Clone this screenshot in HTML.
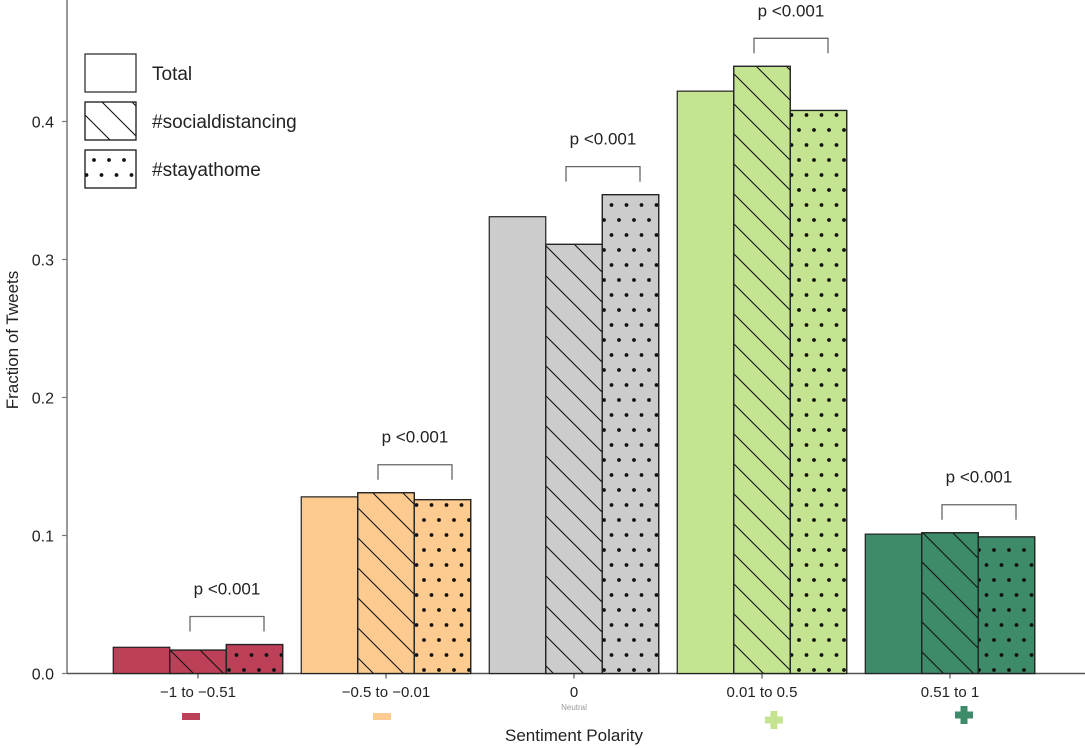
<!DOCTYPE html>
<html><head><meta charset="utf-8">
<style>
html,body{margin:0;padding:0;background:#fff;}
svg{display:block;font-family:"Liberation Sans","DejaVu Sans",sans-serif;}
</style></head>
<body>
<svg id="chart" width="1085" height="748" viewBox="0 0 1085 748">
<defs>
<pattern id="hatch" patternUnits="userSpaceOnUse" width="30" height="30">
<path d="M-5,-5 L35,35 M-35,-5 L5,35 M25,-5 L65,35" stroke="#111" stroke-width="1.1"/>
</pattern>
<pattern id="dots" patternUnits="userSpaceOnUse" width="15" height="30" x="0" y="7">
<circle cx="4" cy="3" r="1.9" fill="#111"/>
<circle cx="11.5" cy="18" r="1.9" fill="#111"/>
</pattern>
</defs>
<g id="axes"></g>
<g id="bars"></g>
<g id="annot"></g>
<g id="legend"></g>
</svg>
<script>
const categories = ["\u22121 to \u22120.51", "\u22120.5 to \u22120.01", "0", "0.01 to 0.5", "0.51 to 1"];
const totalVals = [0.019, 0.128, 0.331, 0.422, 0.101];
const socialVals = [0.017, 0.131, 0.311, 0.440, 0.102];
const stayVals = [0.021, 0.126, 0.347, 0.408, 0.099];
const yTicks = [0.0, 0.1, 0.2, 0.3, 0.4];
const yTickLabels = ["0.0", "0.1", "0.2", "0.3", "0.4"];
const pLabels = ["p <0.001", "p <0.001", "p <0.001", "p <0.001", "p <0.001"];
const seriesNames = ["Total", "#socialdistancing", "#stayathome"];
const colors = ["#bb4058", "#fdcb8f", "#cccccc", "#c5e491", "#3d8b68"];

const NS = "http://www.w3.org/2000/svg";
const y0 = 673.5, pxPer = 1380;
const yScale = v => y0 - v * pxPer;
const xCenter = i => 198 + i * 188;
const barW = 56.5;
function mk(tag, attrs, parent, text) {
  const e = document.createElementNS(NS, tag);
  for (const k in attrs) e.setAttribute(k, attrs[k]);
  if (text !== undefined) e.textContent = text;
  parent.appendChild(e);
  return e;
}
const axes = document.getElementById('axes');
const bars = document.getElementById('bars');
const annot = document.getElementById('annot');
const legend = document.getElementById('legend');

// y axis
let yl = mk('line', {x1: 67, y1: 0, x2: 67, y2: y0, stroke: '#777', 'stroke-width': 1.5}, axes);


let xl = mk('line', {x1: 67, y1: y0, x2: 1085, y2: y0, stroke: '#555', 'stroke-width': 1.5}, axes);


yTicks.forEach((t, i) => {
  const y = yScale(t);
  mk('line', {x1: 62, y1: y, x2: 67, y2: y, stroke: '#777', 'stroke-width': 1.2}, axes);
  const lab = mk('text', {x: 54, y: y + 6, 'text-anchor': 'end', 'font-size': 16, fill: '#222'}, axes, yTickLabels[i]);
  
  
});
const yt = mk('text', {x: 18, y: 340, 'text-anchor': 'middle', 'font-size': 17, fill: '#222', transform: 'rotate(-90 18 340)'}, axes, 'Fraction of Tweets');


const xt = mk('text', {x: 574, y: 741, 'text-anchor': 'middle', 'font-size': 17, fill: '#222'}, axes, 'Sentiment Polarity');



categories.forEach((c, i) => {
  const cx = xCenter(i);
  mk('line', {x1: cx, y1: y0, x2: cx, y2: y0 + 5, stroke: '#555', 'stroke-width': 1.2}, axes);
  const lab = mk('text', {x: cx, y: 697, 'text-anchor': 'middle', 'font-size': 15, fill: '#222'}, axes, c);
  
  
  const vals = [totalVals[i], socialVals[i], stayVals[i]];
  vals.forEach((v, s) => {
    const x = cx - 1.5 * barW + s * barW;
    const y = yScale(v);
    const r = mk('rect', {x: x, y: y, width: barW, height: y0 - y, fill: colors[i], stroke: '#222', 'stroke-width': 1.2}, bars);
    
    
    if (s > 0) {
      const o = mk('rect', {x: x, y: y, width: barW, height: y0 - y, fill: s === 1 ? 'url(#hatch)' : 'url(#dots)', stroke: '#222', 'stroke-width': 1.2}, bars);
      
      
    }
  });
  // bracket
  const top = yScale(Math.max(socialVals[i], stayVals[i])) - 28;
  const bx1 = cx - 8, bx2 = cx + 66;
  const br = mk('path', {d: `M${bx1},${top + 15} L${bx1},${top} L${bx2},${top} L${bx2},${top + 15}`, fill: 'none', stroke: '#666', 'stroke-width': 1.3}, annot);
  
  
  const pt = mk('text', {x: (bx1 + bx2) / 2, y: top - 22, 'text-anchor': 'middle', 'font-size': 17, fill: '#222'}, annot, pLabels[i]);
  
  
});
// sign icons
const m1 = mk('rect', {x: 182, y: 713, width: 18, height: 7, fill: colors[0]}, axes);


const m2 = mk('rect', {x: 373, y: 713, width: 18, height: 7, fill: colors[1]}, axes);


const nt = mk('text', {x: 574, y: 710, 'text-anchor': 'middle', 'font-size': 8, fill: '#999'}, axes, 'Neutral');


[[774, 720, colors[3], 'slight-positive-icon'], [964, 715, colors[4], 'positive-icon']].forEach(p => {
  const g = mk('path', {d: `M${p[0]-3.5},${p[1]-9} h7 v5.5 h5.5 v7 h-5.5 v5.5 h-7 v-5.5 h-5.5 v-7 h5.5 z`, fill: p[2]}, axes);
  
  
});
// legend
const lgY = [54, 102, 150];
seriesNames.forEach((n, s) => {
  const b = mk('rect', {x: 85, y: lgY[s], width: 51, height: 38, fill: '#fff', stroke: '#222', 'stroke-width': 1.2}, legend);
  
  
  if (s > 0) mk('rect', {x: 85, y: lgY[s], width: 51, height: 38, fill: s === 1 ? 'url(#hatch)' : 'url(#dots)', stroke: '#222', 'stroke-width': 1.2}, legend);
  const t = mk('text', {x: 152, y: lgY[s] + 26, 'font-size': 19, fill: '#222'}, legend, n);
  
  
});
</script>
</body></html>
